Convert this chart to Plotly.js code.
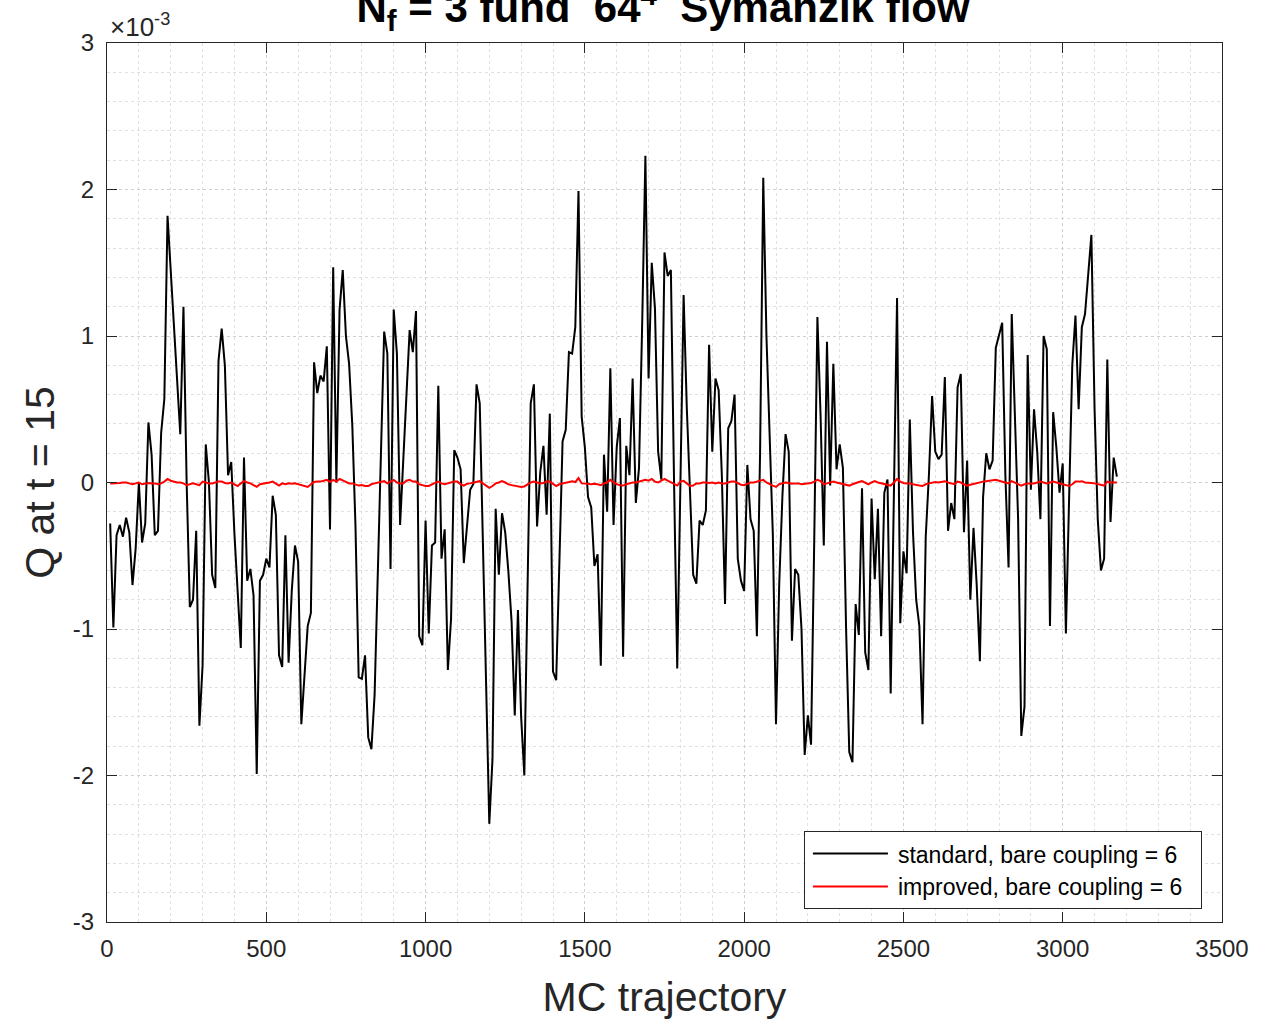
<!DOCTYPE html>
<html>
<head>
<meta charset="utf-8">
<script src="https://cdn.plot.ly/plotly-3.0.1.min.js"></script>
<style>
html,body{margin:0;padding:0;background:#fff;}
#chart{width:1269px;height:1021px;}
</style>
</head>
<body>
<div id="chart"></div>
<script>
// MC trajectory numbers
const trajectory = [
10,20,30,40,50,60,70,80,90,100,110,120,130,140,150,160,170,180,190,200,
210,220,230,240,250,260,270,280,290,300,310,320,330,340,350,360,370,380,390,400,
410,420,430,440,450,460,470,480,490,500,510,520,530,540,550,560,570,580,590,600,
610,620,630,640,650,660,670,680,690,700,710,720,730,740,750,760,770,780,790,800,
810,820,830,840,850,860,870,880,890,900,910,920,930,940,950,960,970,980,990,1000,
1010,1020,1030,1040,1050,1060,1070,1080,1090,1100,1110,1120,1130,1140,1150,1160,1170,1180,1190,1200,
1210,1220,1230,1240,1250,1260,1270,1280,1290,1300,1310,1320,1330,1340,1350,1360,1370,1380,1390,1400,
1410,1420,1430,1440,1450,1460,1470,1480,1490,1500,1510,1520,1530,1540,1550,1560,1570,1580,1590,1600,
1610,1620,1630,1640,1650,1660,1670,1680,1690,1700,1710,1720,1730,1740,1750,1760,1770,1780,1790,1800,
1810,1820,1830,1840,1850,1860,1870,1880,1890,1900,1910,1920,1930,1940,1950,1960,1970,1980,1990,2000,
2010,2020,2030,2040,2050,2060,2070,2080,2090,2100,2110,2120,2130,2140,2150,2160,2170,2180,2190,2200,
2210,2220,2230,2240,2250,2260,2270,2280,2290,2300,2310,2320,2330,2340,2350,2360,2370,2380,2390,2400,
2410,2420,2430,2440,2450,2460,2470,2480,2490,2500,2510,2520,2530,2540,2550,2560,2570,2580,2590,2600,
2610,2620,2630,2640,2650,2660,2670,2680,2690,2700,2710,2720,2730,2740,2750,2760,2770,2780,2790,2800,
2810,2820,2830,2840,2850,2860,2870,2880,2890,2900,2910,2920,2930,2940,2950,2960,2970,2980,2990,3000,
3010,3020,3030,3040,3050,3060,3070,3080,3090,3100,3110,3120,3130,3140,3150,3160,3170
];

// Q at t = 15, standard flow (units of 1e-3)
const qStandard = [
-0.28,-0.99,-0.36,-0.29,-0.37,-0.24,-0.34,-0.70,-0.45,0.00,-0.41,-0.28,0.41,0.19,-0.36,-0.33,0.34,0.57,1.82,1.45,
1.12,0.75,0.33,1.20,0.00,-0.85,-0.80,-0.33,-1.66,-1.25,0.26,0.00,-0.63,-0.72,0.83,1.05,0.80,0.05,0.14,-0.35,
-0.75,-1.13,0.17,
-0.67,-0.59,-0.77,-1.99,-0.67,-0.63,-0.52,-0.58,-0.09,-0.22,-1.18,-1.26,-0.36,-1.23,-0.74,-0.43,-0.54,-1.65,-1.31,-0.98,
-0.89,0.82,0.61,0.73,0.69,0.93,-0.32,1.47,0.00,1.18,1.45,1.00,0.81,0.39,-0.30,-1.33,-1.34,-1.18,-1.74,-1.82,
-1.45,-0.60,0.30,1.03,
0.88,-0.59,1.18,0.88,-0.29,0.15,0.63,1.04,0.89,1.17,-1.05,-1.11,-0.26,-1.03,-0.43,-0.41,0.66,-0.52,-0.32,-1.28,
-0.93,0.22,0.17,0.09,-0.55,-0.31,-0.05,-0.01,0.67,0.54,-0.45,-1.39,-2.33,-1.89,-0.18,-0.63,-0.21,-0.34,-0.61,-0.95,
-1.59,-0.87,-1.60,-2.00,
-0.70,0.54,0.67,-0.30,0.07,0.25,-0.22,0.47,-1.29,-1.35,-0.55,0.28,0.36,0.89,0.88,1.06,1.99,0.45,0.24,-0.10,
-0.17,-0.57,-0.49,-1.25,0.19,-0.20,0.78,-0.29,0.24,0.44,-1.19,0.25,0.05,0.71,-0.14,0.10,1.09,2.23,0.71,1.50,
1.19,0.21,0.02,
1.57,1.41,1.45,0.00,-1.27,0.00,1.28,0.51,-0.10,-0.63,-0.69,-0.26,-0.29,-0.19,0.94,0.21,0.71,0.63,0.05,-0.83,
0.37,0.42,0.60,-0.52,-0.67,-0.74,0.12,-0.25,-0.33,-1.05,0.20,2.08,1.00,0.30,-0.35,-1.65,-0.70,-0.10,0.33,0.21,
-1.08,-0.59,-0.63,-1.00,-1.86,
-1.59,-1.79,-0.40,1.13,0.45,-0.43,0.96,-0.02,0.81,0.09,0.26,0.10,-1.00,-1.84,-1.91,-0.83,-1.04,-0.04,-1.16,-1.28,
-0.11,-0.66,-0.18,-1.05,-0.07,0.02,-1.44,-0.10,1.26,-0.96,-0.47,-0.62,0.43,-0.34,-0.80,-0.98,-1.65,-0.37,0.05,0.59,
0.21,0.16,0.19,0.72,
-0.33,-0.14,-0.25,0.65,0.74,-0.34,0.15,-0.80,-0.31,-0.70,-1.22,-0.10,0.20,0.09,0.15,0.92,1.00,1.09,0.05,-0.58,
1.15,0.50,-0.25,-1.73,-1.53,0.87,-0.05,0.50,0.21,-0.25,1.00,0.91,-0.98,0.48,0.24,-0.07,0.13,-1.03,-0.10,0.80,
1.14,0.50,1.06,1.15,
1.42,1.69,0.50,-0.25,-0.60,-0.52,0.84,-0.27,0.17,0.04
];

// Q at t = 15, improved flow (units of 1e-3)
const qImproved = [
-0.006,-0.006,-0.003,-0.003,0.0,0.0,-0.006,-0.012,-0.006,0.0,-0.012,-0.006,-0.003,-0.006,-0.006,-0.012,-0.006,0.006,0.024,0.012,
0.006,0.0,0.0,-0.006,-0.018,-0.012,-0.006,-0.012,-0.018,0.006,0.0,-0.006,-0.006,0.0,0.006,0.006,-0.003,-0.006,0.0,-0.012,
-0.024,-0.006,0.009,
0.0,-0.006,-0.018,-0.03,-0.012,-0.009,-0.003,0.0,0.006,-0.006,-0.021,-0.006,-0.012,-0.006,-0.009,-0.006,-0.012,-0.018,-0.024,-0.03,
-0.012,0.003,0.006,0.006,0.012,0.018,0.003,0.018,0.006,0.024,0.015,0.006,-0.006,-0.006,-0.015,-0.021,-0.018,-0.024,-0.024,-0.012,
-0.006,0.0,0.006,0.009,
-0.006,0.006,0.018,0.0,-0.006,-0.006,0.012,0.018,0.006,0.006,-0.012,-0.018,-0.024,-0.024,-0.012,-0.003,0.006,-0.006,-0.012,-0.006,
0.0,0.006,0.006,-0.012,-0.021,-0.009,-0.006,0.0,0.006,0.009,-0.006,-0.024,-0.036,-0.024,-0.006,0.0,0.009,0.0,-0.012,-0.018,
-0.021,-0.024,-0.03,-0.027,
-0.012,0.0,0.006,0.0,-0.006,-0.003,0.006,0.006,-0.012,-0.024,-0.012,-0.006,0.0,0.006,0.009,0.003,0.03,-0.006,-0.006,-0.009,
-0.012,-0.009,-0.012,-0.018,-0.006,0.0,0.018,0.0,-0.012,-0.018,-0.021,-0.012,-0.006,0.0,0.0,0.006,0.012,0.018,0.012,0.024,
0.006,0.0,0.012,
0.024,0.012,0.0,-0.012,-0.021,0.006,0.012,-0.006,-0.024,-0.021,-0.006,-0.006,0.0,0.0,-0.003,0.0,-0.006,0.0,-0.006,-0.006,
0.0,0.006,0.006,-0.006,-0.015,-0.018,-0.009,0.0,0.0,0.006,0.012,0.018,0.0,-0.012,-0.021,-0.03,-0.012,-0.006,0.0,-0.003,
-0.009,-0.006,-0.006,-0.012,-0.009,
-0.006,-0.003,0.006,0.018,0.009,-0.012,-0.006,0.0,0.006,0.0,-0.006,-0.012,-0.018,-0.021,-0.012,-0.003,0.003,0.009,-0.003,-0.012,
0.0,0.009,0.0,-0.006,-0.012,-0.018,-0.021,0.0,0.024,0.006,-0.003,-0.006,-0.006,-0.012,-0.018,-0.021,-0.024,-0.012,-0.006,0.0,
0.003,0.0,0.006,0.009,
0.0,-0.006,-0.012,0.006,0.0,-0.012,-0.021,-0.015,-0.009,-0.006,0.0,0.006,0.009,0.012,0.018,0.018,0.012,0.006,-0.003,-0.006,
0.009,0.0,-0.012,-0.021,-0.012,-0.006,-0.006,-0.006,0.0,0.006,0.0,-0.006,0.0,0.006,0.0,-0.006,-0.012,-0.021,-0.024,-0.012,
0.006,0.006,0.009,0.0,
0.0,-0.003,-0.006,-0.012,-0.018,-0.021,0.006,0.0,0.0,0.0
];

const seriesNames = ['standard, bare coupling = 6', 'improved, bare coupling = 6'];
const xTickVals = [0,500,1000,1500,2000,2500,3000,3500];
const xTickText = ['0','500','1000','1500','2000','2500','3000','3500'];
const yTickVals = [-3,-2,-1,0,1,2,3];
const yTickText = ['-3','-2','-1','0','1','2','3'];

const FONT = 'Liberation Sans, Arial, Helvetica, sans-serif';
const AX = '#262626';
const PAD = '\u00a0\u00a0';

const traces = [
  {x: trajectory, y: qStandard, type:'scatter', mode:'lines', name: seriesNames[0] + PAD,
   line:{color:'#000000', width:2}},
  {x: trajectory, y: qImproved, type:'scatter', mode:'lines', name: seriesNames[1] + PAD,
   line:{color:'#ff0000', width:2}}
];

const axisCommon = {
  showline:true, mirror:'ticks', linecolor:AX, linewidth:1,
  ticks:'inside', ticklen:10, tickwidth:1, tickcolor:AX,
  showgrid:true, gridcolor:'#cfcfcf', griddash:'dot', gridwidth:1,
  zeroline:false, tickfont:{family:FONT, size:24, color:AX},
  automargin:false
};

const layout = {
  width:1269, height:1021,
  margin:{l:107, r:47, t:43, b:99, pad:0},
  paper_bgcolor:'#ffffff', plot_bgcolor:'#ffffff',
  font:{family:FONT, color:AX},
  showlegend:true,
  title:{
    text:'<b>N<sub>f</sub> = 3 fund  64<sup>4</sup>  Symanzik flow</b>',
    font:{family:FONT, size:42, color:'#000'},
    x:0.5225, xanchor:'center', xref:'container',
    y:0.9925, yanchor:'middle', yref:'container'
  },
  xaxis: Object.assign({}, axisCommon, {
    range:[0,3500], tickmode:'array', tickvals:xTickVals, ticktext:xTickText,
    ticklabelstandoff:5,
    minor:{dtick:100, showgrid:true, gridcolor:'#e0e0e0', griddash:'dot', gridwidth:1, ticks:''},
    title:{text:'MC trajectory', font:{family:FONT, size:41, color:AX}, standoff:21}
  }),
  yaxis: Object.assign({}, axisCommon, {
    range:[-3,3], tickmode:'array', tickvals:yTickVals, ticktext:yTickText,
    ticklabelstandoff:7,
    minor:{dtick:0.2, showgrid:true, gridcolor:'#e0e0e0', griddash:'dot', gridwidth:1, ticks:''},
    title:{text:'Q at t = 15', font:{family:FONT, size:41, color:AX}, standoff:5}
  }),
  legend:{
    x:0.982, xanchor:'right', y:0.1034, yanchor:'top',
    bgcolor:'#ffffff', bordercolor:AX, borderwidth:1,
    font:{family:FONT, size:23, color:'#000'},
    itemwidth:83,
    tracegroupgap:0
  },
  annotations:[
    {text:'\u00d710<sup>-3</sup>', xref:'paper', yref:'paper', x:0, y:1,
     xanchor:'left', yanchor:'bottom', xshift:1, yshift:-1, showarrow:false,
     font:{family:FONT, size:26, color:AX}}
  ]
};

Plotly.newPlot('chart', traces, layout, {displayModeBar:false, staticPlot:true}).then(function(gd){
  // lengthen the legend line samples to match the reference legend
  gd.querySelectorAll('.legend .legendlines path').forEach(function(p){
    p.setAttribute('d', 'M8,0h75');
  });
});
</script>
</body>
</html>
